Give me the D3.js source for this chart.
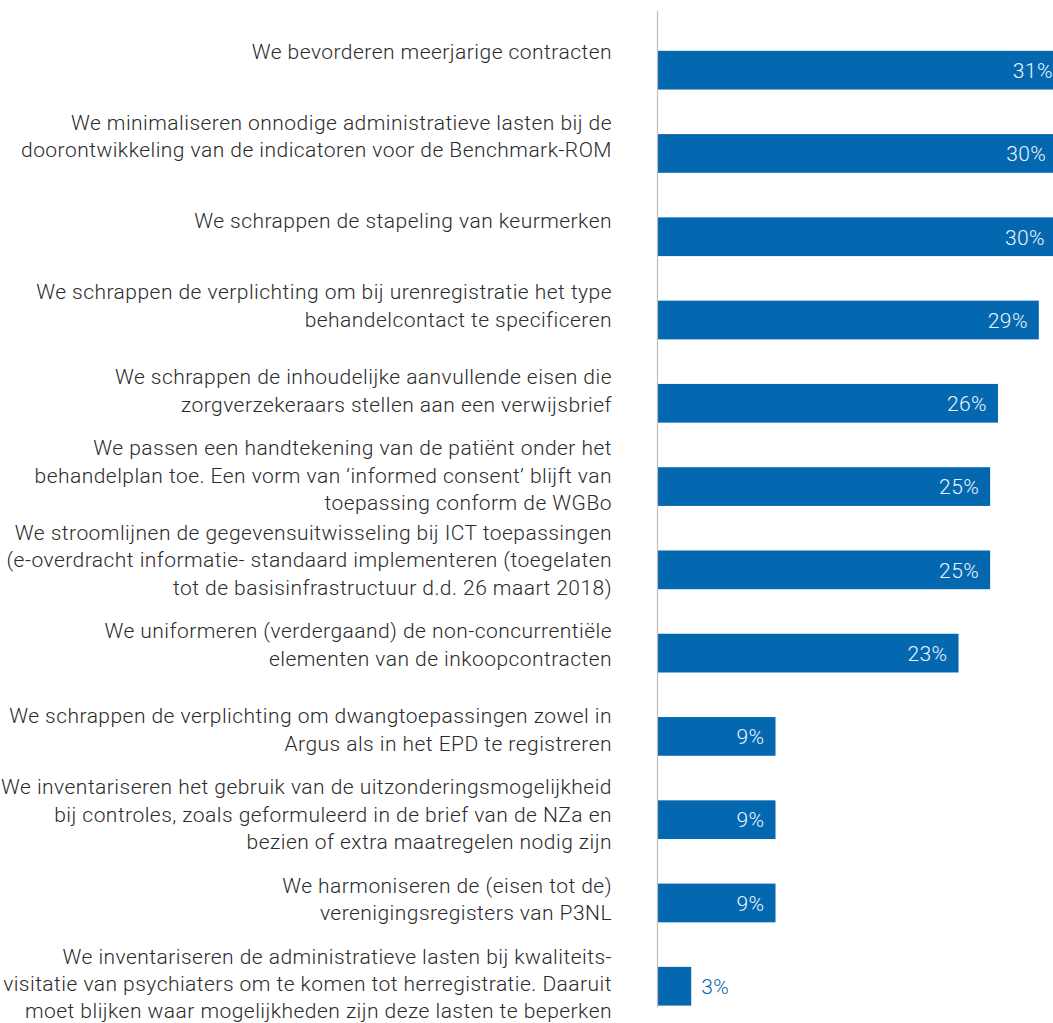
<!DOCTYPE html>
<html>
<head>
<meta charset="utf-8">
<script src="https://cdn.jsdelivr.net/npm/d3@7"></script>
<style>
  html, body { margin: 0; padding: 0; background: #ffffff; }
  svg { display: block; }
</style>
</head>
<body>
<div id="chart"></div>
<script>
// ---- data ----
const categories = [
  "We bevorderen meerjarige contracten",
  "We minimaliseren onnodige administratieve lasten bij de\ndoorontwikkeling van de indicatoren voor de Benchmark-ROM",
  "We schrappen de stapeling van keurmerken",
  "We schrappen de verplichting om bij urenregistratie het type\nbehandelcontact te specificeren",
  "We schrappen de inhoudelijke aanvullende eisen die\nzorgverzekeraars stellen aan een verwijsbrief",
  "We passen een handtekening van de patiënt onder het\nbehandelplan toe. Een vorm van ‘informed consent’ blijft van\ntoepassing conform de WGBo",
  "We stroomlijnen de gegevensuitwisseling bij ICT toepassingen\n(e-overdracht informatie- standaard implementeren (toegelaten\ntot de basisinfrastructuur d.d. 26 maart 2018)",
  "We uniformeren (verdergaand) de non-concurrentiële\nelementen van de inkoopcontracten",
  "We schrappen de verplichting om dwangtoepassingen zowel in\nArgus als in het EPD te registreren",
  "We inventariseren het gebruik van de uitzonderingsmogelijkheid\nbij controles, zoals geformuleerd in de brief van de NZa en\nbezien of extra maatregelen nodig zijn",
  "We harmoniseren de (eisen tot de)\nverenigingsregisters van P3NL",
  "We inventariseren de administratieve lasten bij kwaliteits-\nvisitatie van psychiaters om te komen tot herregistratie. Daaruit\nmoet blijken waar mogelijkheden zijn deze lasten te beperken"
];
const values = [30.9, 30.4, 30.3, 29.0, 25.9, 25.3, 25.3, 22.9, 9.0, 9.0, 9.0, 2.6];

// ---- layout ----
const W = 1053, H = 1023;
const axisX = 657;
const labelRight = 612;
const barColor = "#0468b1";
const fmt = d3.format(".0f");
const FONT = "Roboto, 'Liberation Sans', sans-serif";

const svg = d3.select("#chart").append("svg")
  .attr("width", W).attr("height", H);

const x = d3.scaleLinear().domain([0, 30]).range([axisX, axisX + 395]);

const y = d3.scaleBand()
  .domain(d3.range(categories.length))
  .range([10, 1007])
  .paddingInner(0.535)
  .paddingOuter(0.2534)
  .align(0.967);

const yLabel = d3.scalePoint()
  .domain(d3.range(categories.length))
  .range([52, 984]);

// bars
svg.append("g").selectAll("rect")
  .data(values)
  .join("rect")
  .attr("x", x(0))
  .attr("y", (d, i) => y(i))
  .attr("width", d => x(d) - x(0))
  .attr("height", y.bandwidth())
  .attr("fill", barColor);

// axis line
const axis = svg.append("g")
  .attr("transform", `translate(${axisX},0)`)
  .call(d3.axisLeft(y).tickSize(0).tickSizeOuter(0).tickFormat(""));
axis.select(".domain").attr("stroke", "#bdbdbd").attr("stroke-width", 1.2);

// value labels
const inside = d => (x(d) - x(0) > 60);
svg.append("g").selectAll("text")
  .data(values)
  .join("text")
  .attr("x", d => inside(d) ? x(d) - 11 : x(d) + 10)
  .attr("y", (d, i) => y(i) + y.bandwidth() / 2)
  .attr("dy", "0.37em")
  .attr("text-anchor", d => inside(d) ? "end" : "start")
  .attr("fill", d => inside(d) ? "#eef3fa" : barColor)
  .style("font-family", FONT)
  .style("font-weight", 300)
  .style("font-size", "21px")
  .style("letter-spacing", "0.4px")
  .text(d => fmt(d) + "%");

// category labels: measure width of a reference line to fit the original's text width
const fontSize = 21;
const probe = svg.append("text")
  .style("font-family", FONT).style("font-weight", 300)
  .style("font-size", fontSize + "px")
  .text("doorontwikkeling van de indicatoren voor de Benchmark-ROM");
const probeLen = probe.node().getComputedTextLength();
const probeChars = probe.text().length;
probe.remove();
const letterSp = Math.max(0, (591 - probeLen) / probeChars);

const lineH = 27.4;
const lab = svg.append("g").selectAll("text")
  .data(categories)
  .join("text")
  .attr("text-anchor", "end")
  .attr("fill", "#2b2b2b")
  .style("font-family", FONT)
  .style("font-weight", 300)
  .style("font-size", fontSize + "px")
  .style("letter-spacing", letterSp + "px");

lab.each(function(d, i) {
  const lines = d.split("\n");
  const n = lines.length;
  const firstBase = yLabel(i) - (n - 1) * lineH / 2 + 7;
  d3.select(this).selectAll("tspan")
    .data(lines)
    .join("tspan")
    .attr("x", labelRight)
    .attr("y", (l, k) => firstBase + k * lineH)
    .text(l => l);
});
</script>
</body>
</html>
